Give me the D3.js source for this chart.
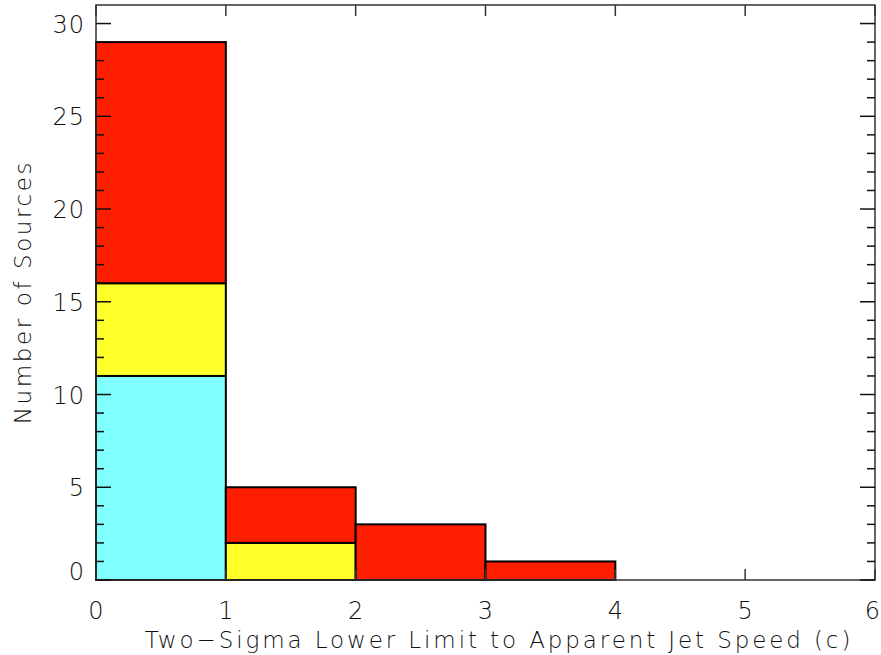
<!DOCTYPE html>
<html>
<head>
<meta charset="utf-8">
<script src="https://cdn.jsdelivr.net/npm/d3@7"></script>
<style>
  body { margin: 0; background: #fff; }
  text { font-family: "DejaVu Sans", sans-serif; font-weight: 200; fill: #111; }
</style>
</head>
<body>
<svg width="881" height="655"></svg>
<script>
// The data: stacked histogram of lower limits
var binStart = [0, 1, 2, 3];
var cyanCounts = [11, 0, 0, 0];
var yellowCounts = [5, 2, 0, 0];
var redCounts = [13, 3, 3, 1];
var xTicks = [0, 1, 2, 3, 4, 5, 6];
var yTicks = [0, 5, 10, 15, 20, 25, 30];

var svg = d3.select("svg");
var margin = { left: 96, right: 6, top: 5, bottom: 75 };
var width = 881 - margin.left - margin.right,
  height = 655 - margin.top - margin.bottom;

var g = svg.append("g").attr("transform", "translate(" + margin.left + "," + margin.top + ")");

var x = d3.scaleLinear().domain([0, 6]).range([0, width]);
var y = d3.scaleLinear().domain([0, 31]).range([height, 0]);

// build stack rows
var rows = binStart.map(function (b, i) {
  return { bin: b, cyan: cyanCounts[i], yellow: yellowCounts[i], red: redCounts[i] };
});
var stack = d3.stack().keys(["cyan", "yellow", "red"]);
var colors = { cyan: "#80ffff", yellow: "#ffff2a", red: "#ff1e00" };

var layers = stack(rows);
layers.forEach(function (layer) {
  g.append("g")
    .selectAll("rect")
    .data(layer.filter(function (d) { return d[1] > d[0]; }))
    .enter()
    .append("rect")
    .attr("x", function (d) { return x(d.data.bin); })
    .attr("width", function (d) { return x(d.data.bin + 1) - x(d.data.bin); })
    .attr("y", function (d) { return y(d[1]); })
    .attr("height", function (d) { return y(d[0]) - y(d[1]); })
    .attr("fill", colors[layer.key])
    .attr("stroke", "#000")
    .attr("stroke-width", 2);
});

// axes box
var axisColor = "#333";
g.append("rect")
  .attr("width", width).attr("height", height)
  .attr("fill", "none").attr("stroke", axisColor).attr("stroke-width", 1.5);

// y ticks: major every 5, minor every 1
var yMinor = d3.range(0, 31, 1);
yMinor.forEach(function (v) {
  var len = v % 5 === 0 ? 15 : 8;
  g.append("line").attr("x1", 0).attr("x2", len).attr("y1", y(v)).attr("y2", y(v))
    .attr("stroke", "#111").attr("stroke-width", 1.5);
  g.append("line").attr("x1", width).attr("x2", width - len).attr("y1", y(v)).attr("y2", y(v))
    .attr("stroke", "#111").attr("stroke-width", 1.5);
});

// x ticks
xTicks.forEach(function (v) {
  g.append("line").attr("x1", x(v)).attr("x2", x(v)).attr("y1", height).attr("y2", height - 11)
    .attr("stroke", axisColor).attr("stroke-width", 1.5);
  g.append("line").attr("x1", x(v)).attr("x2", x(v)).attr("y1", 0).attr("y2", 11)
    .attr("stroke", axisColor).attr("stroke-width", 1.5);
});

// tick labels (last one pinned to the right edge so it stays visible)
g.selectAll(".xl").data(xTicks).enter().append("text")
  .attr("x", function (d) { return d === 6 ? width + margin.right - 1 : x(d); })
  .attr("y", height + 39)
  .attr("text-anchor", function (d) { return d === 6 ? "end" : "middle"; })
  .attr("font-size", 24)
  .text(function (d) { return d; });

g.selectAll(".yl").data(yTicks).enter().append("text")
  .attr("x", -11)
  .attr("y", function (d) { return d === 0 ? y(d) : y(d) + 9; })
  .attr("text-anchor", "end")
  .attr("font-size", 24)
  .attr("letter-spacing", 1)
  .text(function (d) { return d; });

// axis titles
svg.append("text")
  .attr("x", 499).attr("y", 648)
  .attr("text-anchor", "middle")
  .attr("font-size", 23)
  .attr("letter-spacing", 2.9)
  .text("Two\u2212Sigma Lower Limit to Apparent Jet Speed (c)");

svg.append("text")
  .attr("transform", "translate(31,292) rotate(-90)")
  .attr("text-anchor", "middle")
  .attr("font-size", 23)
  .attr("letter-spacing", 2.6)
  .text("Number of Sources");
</script>
</body>
</html>
